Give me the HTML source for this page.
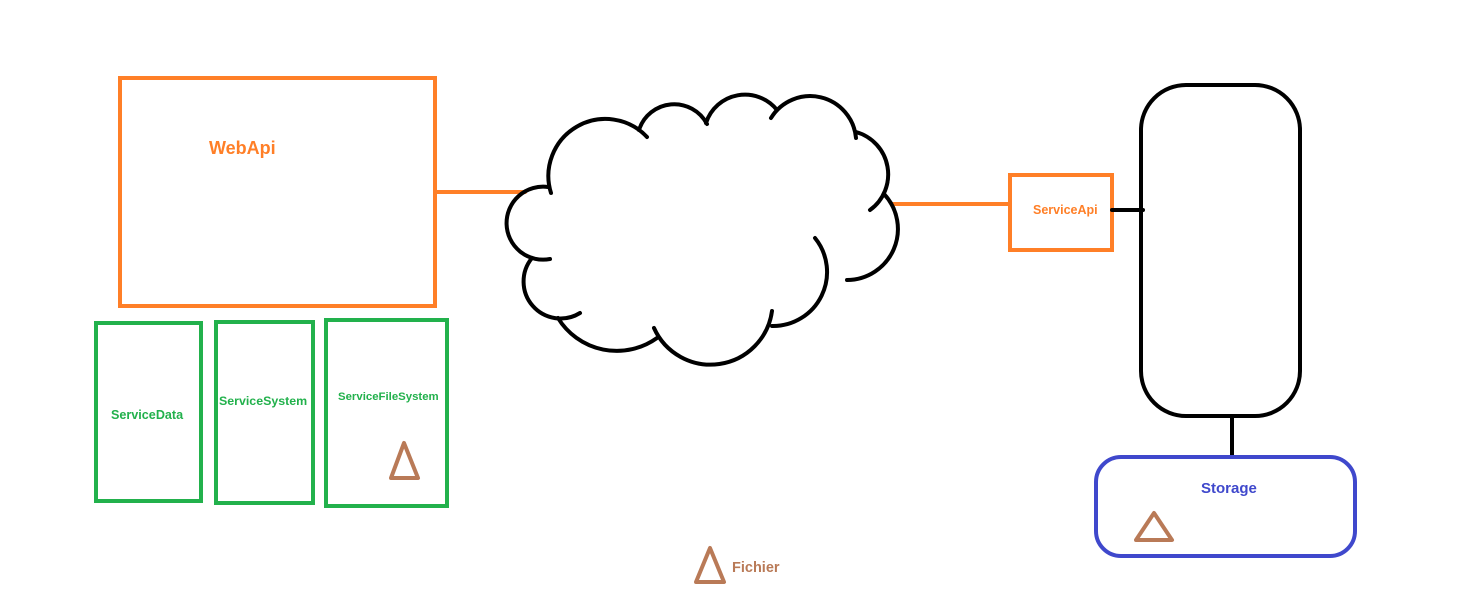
<!DOCTYPE html>
<html><head><meta charset="utf-8"><style>
html,body{margin:0;padding:0;background:#fff;}
svg text{font-family:"Liberation Sans",sans-serif;font-weight:bold;}
</style></head><body>
<svg width="1468" height="603" xmlns="http://www.w3.org/2000/svg">
<rect width="1468" height="603" fill="#fff"/>
<g fill="none" stroke-linecap="round">
<rect x="120" y="78" width="315" height="228" stroke="#ff7f27" stroke-width="4"/>
<line x1="435" y1="192" x2="525" y2="192" stroke="#ff7f27" stroke-width="4"/>
<line x1="893" y1="204" x2="1008" y2="204" stroke="#ff7f27" stroke-width="4"/>
<rect x="1010" y="175" width="102" height="75" stroke="#ff7f27" stroke-width="4"/>
<line x1="1112" y1="210" x2="1143" y2="210" stroke="#000" stroke-width="4"/>
<rect x="1141" y="85" width="159" height="331" rx="45" stroke="#000" stroke-width="4"/>
<line x1="1232" y1="416" x2="1232" y2="457" stroke="#000" stroke-width="4"/>
<rect x="1096" y="457" width="259" height="99" rx="25" stroke="#3f48cc" stroke-width="4"/>
<rect x="96" y="323" width="105" height="178" stroke="#22b14c" stroke-width="4"/>
<rect x="216" y="322" width="97" height="181" stroke="#22b14c" stroke-width="4"/>
<rect x="326" y="320" width="121" height="186" stroke="#22b14c" stroke-width="4"/>
<g stroke="#b97a57" stroke-width="4" stroke-linejoin="round">
<polygon points="391,478 404,443 418,478"/>
<polygon points="1136,540 1154,513 1172,540"/>
<polygon points="696,582 710,548 724,582"/>
</g>
<g stroke="#000" stroke-width="4">
<path d="M551,193 A57,57 0 0 1 647,137"/>
<path d="M639,130 A37,37 0 0 1 707,124"/>
<path d="M706,123 A41,41 0 0 1 777,110"/>
<path d="M771,118 A46,46 0 0 1 856,138"/>
<path d="M856,132 A44,44 0 0 1 870,210"/>
<path d="M884,194 A51,51 0 0 1 847,280"/>
<path d="M815,238 A54,54 0 0 1 772,326"/>
<path d="M772,311 A62,62 0 0 1 654,328"/>
<path d="M657,338 A69,69 0 0 1 558,318"/>
<path d="M580,313 A37,37 0 0 1 532,258"/>
<path d="M550,259 A36.5,36.5 0 1 1 548,187"/>
</g>
</g>
<text x="209" y="154" font-size="18" fill="#ff7f27">WebApi</text>
<text x="1033" y="214" font-size="12.5" fill="#ff7f27">ServiceApi</text>
<text x="111" y="419" font-size="12.6" fill="#22b14c">ServiceData</text>
<text x="219" y="405" font-size="12.4" fill="#22b14c">ServiceSystem</text>
<text x="338" y="400" font-size="11.4" fill="#22b14c">ServiceFileSystem</text>
<text x="1201" y="493" font-size="15" fill="#3f48cc">Storage</text>
<text x="732" y="572" font-size="14.5" fill="#b97a57">Fichier</text>
</svg>
</body></html>
